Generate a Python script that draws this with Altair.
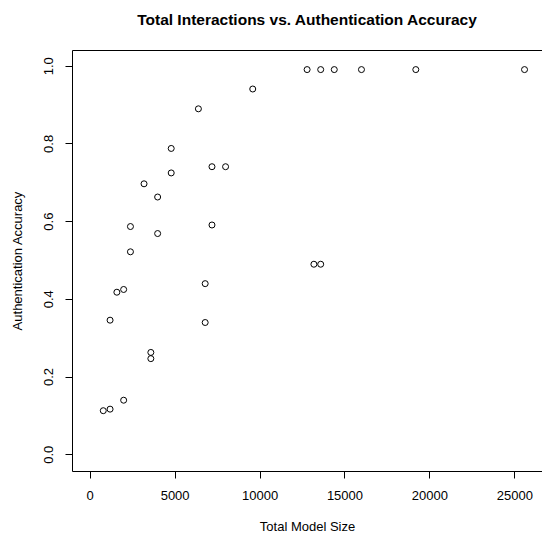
import altair as alt
import pandas as pd

model_size = [12800, 13600, 14400, 16000, 19200, 25600,
              9600, 6400, 4800, 7200, 8000, 4800, 3200, 4000, 2400,
              7200, 4000, 2400, 13200, 13600, 6800, 2000, 1600, 1200,
              6800, 3600, 3600, 2000, 1200, 800]
accuracy = [0.99, 0.99, 0.99, 0.99, 0.99, 0.99,
            0.940, 0.889, 0.787, 0.740, 0.740, 0.724, 0.696, 0.662, 0.586,
            0.590, 0.568, 0.521, 0.489, 0.489, 0.439, 0.424, 0.417, 0.345,
            0.339, 0.262, 0.246, 0.139, 0.116, 0.112]

df = pd.DataFrame({"size": model_size, "acc": accuracy})

FONT = "Liberation Sans"

chart = alt.Chart(df).mark_point(
    shape="circle", filled=False, color="black", size=36, strokeWidth=1, opacity=1
).encode(
    x=alt.X("size:Q",
            scale=alt.Scale(domain=[-1041, 26629], nice=False, zero=False),
            axis=alt.Axis(values=[0, 5000, 10000, 15000, 20000, 25000], format="d",
                          title="Total Model Size", grid=False, domain=False,
                          tickColor="black", tickSize=7, labelPadding=11,
                          labelFontSize=13, labelFont=FONT, labelColor="black",
                          titleFontSize=13, titleFont=FONT, titleFontWeight="normal",
                          titleColor="black", titlePadding=18)),
    y=alt.Y("acc:Q",
            scale=alt.Scale(domain=[-0.0432, 1.0404], nice=False, zero=False),
            axis=alt.Axis(values=[0, 0.2, 0.4, 0.6, 0.8, 1.0], format=".1f",
                          title="Authentication Accuracy", grid=False, domain=False,
                          tickColor="black", tickSize=7, labelPadding=10,
                          labelAngle=-90, labelAlign="center", labelBaseline="bottom",
                          labelFontSize=13, labelFont=FONT, labelColor="black",
                          titleFontSize=13, titleFont=FONT, titleFontWeight="normal",
                          titleColor="black", titlePadding=18)),
).properties(
    width=470, height=421,
    title=alt.TitleParams("Total Interactions vs. Authentication Accuracy",
                          font=FONT, fontSize=15.5, fontWeight="bold", color="black",
                          anchor="middle", offset=22),
    autosize=alt.AutoSizeParams(type="none"),
    padding={"left": 64, "top": 42, "right": 0, "bottom": 66},
).configure_view(stroke="black", strokeWidth=1)

chart.save("out.html", embed_options={"renderer": "svg", "actions": False})
